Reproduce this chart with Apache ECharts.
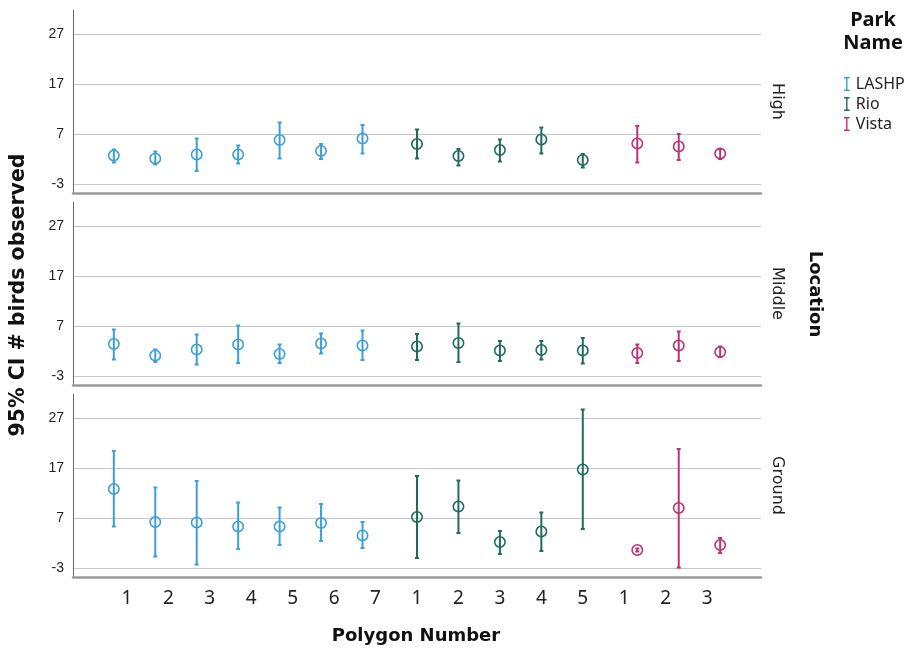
<!DOCTYPE html>
<html><head><meta charset="utf-8">
<script src="https://cdn.jsdelivr.net/npm/echarts@6/dist/echarts.min.js"></script>
<style>html,body{margin:0;padding:0;background:#fff}#c{width:911px;height:652px}</style>
</head><body><div id="c"></div><script>
// ---- data ----
const parks = ['LASHP', 'Rio', 'Vista'];
const parkColors = ['#3d9fd6', '#1f6b5d', '#bb3374'];
const polygonLabels = ['1','2','3','4','5','6','7','1','2','3','4','5','1','2','3'];
const parkOfCategory = ['LASHP','LASHP','LASHP','LASHP','LASHP','LASHP','LASHP','Rio','Rio','Rio','Rio','Rio','Vista','Vista','Vista'];
const locations = ['High', 'Middle', 'Ground'];
const yTicks = [-3, 7, 17, 27];

const highMean = [2.7, 2.1, 2.9, 2.9, 5.8, 3.6, 6.1, 5.0, 2.6, 3.8, 5.9, 1.8, 5.1, 4.5, 3.1];
const highLow  = [1.3, 0.9, -0.4, 1.1, 2.1, 2.0, 3.1, 2.1, 0.7, 1.5, 3.1, 0.3, 1.3, 1.8, 2.0];
const highHigh = [3.9, 3.5, 6.1, 4.7, 9.3, 5.0, 8.8, 7.9, 4.0, 5.9, 8.3, 3.0, 8.6, 7.0, 4.0];

const middleMean = [3.4, 1.1, 2.3, 3.3, 1.4, 3.5, 3.1, 2.9, 3.6, 2.1, 2.2, 2.1, 1.6, 3.1, 1.8];
const middleLow  = [0.3, -0.2, -0.7, -0.4, -0.4, 1.5, 0.2, 0.2, -0.2, 0.0, 0.3, -0.5, -0.4, 0.0, 0.8];
const middleHigh = [6.3, 2.3, 5.3, 7.1, 3.3, 5.5, 6.1, 5.4, 7.5, 4.0, 4.0, 4.6, 3.3, 5.9, 2.9];

const groundMean = [12.8, 6.2, 6.1, 5.3, 5.3, 6.0, 3.5, 7.2, 9.3, 2.2, 4.3, 16.7, 0.6, 9.0, 1.6];
const groundLow  = [5.3, -0.7, -2.3, 0.8, 1.6, 2.4, 1.0, -1.0, 4.0, -0.2, 0.4, 4.8, 0.3, -2.9, 0.0];
const groundHigh = [20.4, 13.1, 14.4, 10.1, 9.1, 9.8, 6.2, 15.4, 14.5, 4.4, 8.1, 28.7, 0.9, 20.8, 3.0];

const panelData = [
  [highMean, highLow, highHigh],
  [middleMean, middleLow, middleHigh],
  [groundMean, groundLow, groundHigh]
];

// ---- chart ----
const chart = echarts.init(document.getElementById('c'), null, {renderer: 'canvas'});
const gridTops = [10, 202, 394];
const parkOffsets = [-0.315, 0, 0.315];
const catIdx = polygonLabels.map((_, i) => i);

function makeRender(offsetFrac) {
  return function (params, api) {
    const xi = api.value(0);
    const pM = api.coord([xi, api.value(1)]);
    const pL = api.coord([xi, api.value(2)]);
    const pH = api.coord([xi, api.value(3)]);
    const unit = api.size([1, 0])[0];
    const x = pM[0] + offsetFrac * unit;
    const color = api.visual('color');
    const cap = 2;
    return {
      type: 'group',
      children: [
        {type: 'line', shape: {x1: x, y1: pL[1], x2: x, y2: pH[1]}, style: {stroke: color, lineWidth: 2}},
        {type: 'line', shape: {x1: x - cap, y1: pL[1], x2: x + cap, y2: pL[1]}, style: {stroke: color, lineWidth: 2}},
        {type: 'line', shape: {x1: x - cap, y1: pH[1], x2: x + cap, y2: pH[1]}, style: {stroke: color, lineWidth: 2}},
        {type: 'circle', shape: {cx: x, cy: pM[1], r: 5.2}, style: {fill: 'rgba(0,0,0,0)', stroke: color, lineWidth: 1.6}}
      ]
    };
  };
}

const grids = [], xAxes = [], yAxes = [], series = [];
locations.forEach((loc, li) => {
  grids.push({left: 73, right: 150, top: gridTops[li], height: 183});
  xAxes.push({
    type: 'value', gridIndex: li, min: -1.3, max: 15.3,
    axisLine: {show: true, onZero: false, lineStyle: {color: '#9a9a9a', width: 2.5}},
    axisTick: {show: false, customValues: catIdx},
    splitLine: {show: false},
    axisLabel: {
      show: li === 2, customValues: catIdx, margin: 12,
      fontFamily: 'Noto Sans', fontSize: 19, color: '#222',
      formatter: v => polygonLabels[Math.round(v)]
    }
  });
  yAxes.push({
    type: 'value', gridIndex: li, min: -4.8, max: 31.8,
    axisLine: {show: true, onZero: false, lineStyle: {color: '#666', width: 1}},
    axisTick: {show: false, customValues: yTicks},
    splitLine: {show: true, lineStyle: {color: '#c6c6c6', width: 1.2}},
    axisLabel: {customValues: yTicks, fontSize: 14, color: '#222', margin: 9, fontFamily: 'Liberation Sans'}
  });
  const [means, lows, highs] = panelData[li];
  parks.forEach((park, pi) => {
    const data = [];
    parkOfCategory.forEach((p, i) => { if (p === park) data.push([i, means[i], lows[i], highs[i]]); });
    series.push({
      type: 'custom', name: park, xAxisIndex: li, yAxisIndex: li,
      itemStyle: {color: parkColors[pi]},
      encode: {x: 0, y: [1, 2, 3]},
      renderItem: makeRender(parkOffsets[pi]),
      data: data, silent: true, animation: false
    });
  });
});

const stripCenters = [101.5, 293.5, 485.5];
const graphics = [
  {type: 'text', x: 19, y: 295, rotation: Math.PI / 2,
   style: {text: '95% CI # birds observed', textAlign: 'center', textVerticalAlign: 'middle', font: 'bold 20.5px "DejaVu Sans"', fill: '#111'}},
  {type: 'text', x: 416, y: 636,
   style: {text: 'Polygon Number', textAlign: 'center', textVerticalAlign: 'middle', font: 'bold 18px "DejaVu Sans"', fill: '#111'}},
  {type: 'text', x: 815, y: 294, rotation: -Math.PI / 2,
   style: {text: 'Location', textAlign: 'center', textVerticalAlign: 'middle', font: 'bold 18px "DejaVu Sans"', fill: '#111'}},
  {type: 'text', x: 873, y: 32,
   style: {text: 'Park\nName', textAlign: 'center', textVerticalAlign: 'middle', font: 'bold 20px "Noto Sans"', lineHeight: 23, fill: '#111'}}
];
locations.forEach((loc, li) => {
  graphics.push({type: 'text', x: 777, y: stripCenters[li], rotation: -Math.PI / 2,
    style: {text: loc, textAlign: 'center', textVerticalAlign: 'middle', font: '16px "DejaVu Sans"', fill: '#222'}});
});

chart.setOption({
  animation: false,
  backgroundColor: '#fff',
  grid: grids, xAxis: xAxes, yAxis: yAxes, series: series,
  legend: {
    data: parks, orient: 'vertical', left: 839, top: 71,
    itemWidth: 8, itemHeight: 14, itemGap: 4,
    icon: 'path://M0,0H8V2H5V18H8V20H0V18H3V2H0Z',
    textStyle: {fontSize: 16, color: '#222', fontFamily: 'Noto Sans', padding: [0, 0, 0, 0]},
    selectedMode: false
  },
  graphic: graphics
});
</script></body></html>
